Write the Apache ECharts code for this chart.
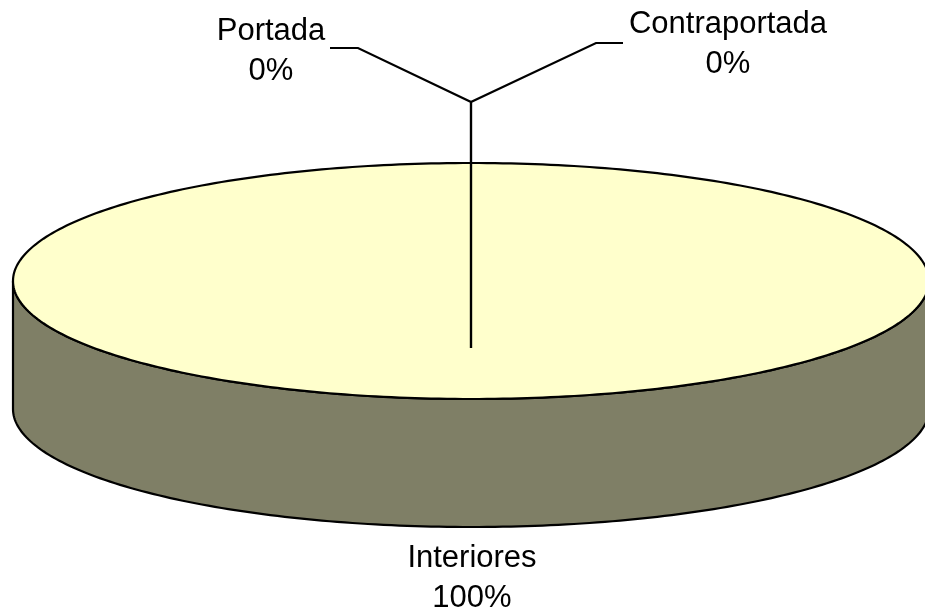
<!DOCTYPE html>
<html>
<head>
<meta charset="utf-8">
<script src="https://cdn.jsdelivr.net/npm/echarts@6/dist/echarts.min.js"></script>
<style>
  html, body { margin: 0; padding: 0; background: #fff; }
  #main { width: 925px; height: 614px; }
</style>
</head>
<body>
<div id="main"></div>
<script>
// slices, in drawing order (clockwise from 12 o'clock)
const categories = ['Portada', 'Contraportada', 'Interiores'];
const values = [0, 0, 100];

const chart = echarts.init(document.getElementById('main'));

// 3d pie geometry
const cx = 471, cy = 281, rx = 458, ry = 118, depth = 128;
const topColor = '#ffffcc', sideColor = '#7f7f66';

const total = values.reduce((a, b) => a + b, 0);
const angles = [];
let acc = 0;
values.forEach(v => {
    const a0 = acc / total * 360;
    acc += v;
    angles.push([a0, acc / total * 360]);
});

function pt(deg, dy) {
    const r = deg * Math.PI / 180;
    return [cx + rx * Math.sin(r), cy - ry * Math.cos(r) + (dy || 0)];
}
function arc(a0, a1, dy) {
    const pts = [];
    const n = Math.max(2, Math.ceil(Math.abs(a1 - a0)));
    for (let k = 0; k <= n; k++) pts.push(pt(a0 + (a1 - a0) * k / n, dy));
    return pts;
}

// where the labels go (text block centre + leader line)
const labelPos = {
    Portada: { x: 271, y: 51, leader: [[471, 348], [471, 102], [358, 48], [330, 48]] },
    Contraportada: { x: 728, y: 44, leader: [[471, 348], [471, 102], [596, 43], [623, 43]] },
    Interiores: { x: 472, y: 578, leader: null }
};

function renderItem(params, api) {
    const i = params.dataIndex;
    const [a0, a1] = angles[i];
    const children = [];

    // front wall
    const s = Math.max(a0, 90), e = Math.min(a1, 270);
    if (e > s) {
        children.push({
            type: 'polygon',
            z2: 1,
            shape: { points: arc(s, e, 0).concat(arc(e, s, depth)) },
            style: { fill: sideColor, stroke: '#000', lineWidth: 2.2 }
        });
    }
    // top face
    if (a1 > a0) {
        let pts = arc(a0, a1, 0);
        if (a1 - a0 < 360) pts = [[cx, cy]].concat(pts);
        children.push({
            type: 'polygon',
            z2: 5,
            shape: { points: pts },
            style: { fill: topColor, stroke: '#000', lineWidth: 2.2 }
        });
    }
    const lp = labelPos[categories[i]];
    if (lp.leader) {
        children.push({
            type: 'polyline',
            z2: 10,
            shape: { points: lp.leader },
            style: { stroke: '#000', lineWidth: 2.2, fill: null }
        });
    }
    children.push({
        type: 'text',
        z2: 10,
        style: {
            text: categories[i] + '\n' + Math.round(values[i] / total * 100) + '%',
            x: lp.x,
            y: lp.y,
            align: 'center',
            verticalAlign: 'middle',
            fontSize: 31,
            fontFamily: 'Liberation Sans, Arial, sans-serif',
            lineHeight: 40,
            fill: '#000'
        }
    });
    return { type: 'group', children: children };
}

const option = {
    animation: false,
    series: [{
        type: 'custom',
        coordinateSystem: 'none',
        silent: true,
        data: values.map((v, i) => ({ name: categories[i], value: v })),
        renderItem: renderItem
    }]
};
option && chart.setOption(option);
</script>
</body>
</html>
